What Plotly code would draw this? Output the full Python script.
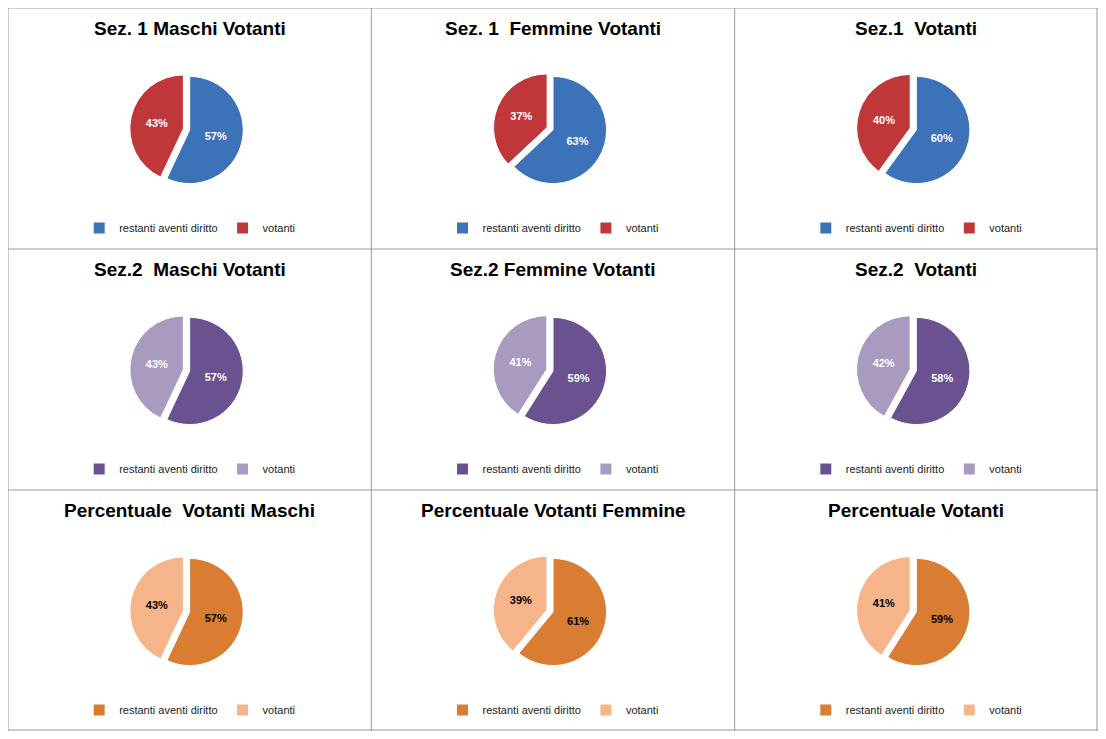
import plotly.graph_objects as go

titles = [
    "Sez. 1 Maschi Votanti", "Sez. 1  Femmine Votanti", "Sez.1  Votanti",
    "Sez.2  Maschi Votanti", "Sez.2 Femmine Votanti", "Sez.2  Votanti",
    "Percentuale  Votanti Maschi", "Percentuale Votanti Femmine", "Percentuale Votanti",
]
labels = ["restanti aventi diritto", "votanti"]
restanti = [57, 63, 60, 57, 59, 58, 57, 61, 59]
votanti = [43, 37, 40, 43, 41, 42, 43, 39, 41]
row_colors = [["#3c72b8", "#c0373a"], ["#6a5190", "#a99bbf"], ["#d97d33", "#f5b48a"]]
row_text = ["white", "white", "black"]

W, H = 1090, 723
fig = go.Figure()
cw, ch = W / 3, H / 3

for i in range(9):
    r, c = divmod(i, 3)
    x0 = c * cw
    top = r * ch
    cy = top + 122
    rad = 60
    # invisible suffix keeps each pie's labels distinct so every legend shows them
    lab = [l + "\u200b" * i for l in labels]
    lname = "legend" if i == 0 else f"legend{i + 1}"
    fig.add_trace(go.Pie(
        labels=lab, values=[restanti[i], votanti[i]],
        marker=dict(colors=row_colors[r], line=dict(color="white", width=1)),
        pull=[0, 0.12], sort=False, direction="clockwise", rotation=0,
        texttemplate="<b>%{percent:.0%}</b>", textposition="inside",
        insidetextfont=dict(color=row_text[r], size=11, family="Liberation Sans"),
        domain=dict(x=[(x0 + 20) / W, (x0 + cw - 20) / W],
                    y=[1 - (cy + rad) / H, 1 - (cy - rad) / H]),
        legend=lname, hoverinfo="label+percent",
    ))
    fig.add_annotation(text=f"<b>{titles[i]}</b>", x=(x0 + cw / 2) / W,
                       y=1 - (top + 20) / H, xref="paper", yref="paper",
                       xanchor="center", yanchor="middle",
                       showarrow=False, font=dict(size=19, color="black"))
    lg = dict(orientation="h", x=(x0 + cw / 2) / W, y=1 - (top + 220) / H,
              xanchor="center", yanchor="middle", font=dict(size=11, color="#222"),
              bgcolor="rgba(0,0,0,0)", itemwidth=30)
    fig.update_layout(**{lname: lg})

shapes = []
for k in range(4):
    xv = min(k * cw, W - 1)
    yv = min(k * ch, H - 1)
    shapes.append(dict(type="line", xref="paper", yref="paper",
                       x0=xv / W, x1=xv / W, y0=0, y1=1, line=dict(color="#999", width=1)))
    shapes.append(dict(type="line", xref="paper", yref="paper",
                       x0=0, x1=1, y0=1 - yv / H, y1=1 - yv / H, line=dict(color="#999", width=1)))

fig.update_layout(
    width=W, height=H, margin=dict(l=0, r=0, t=0, b=0),
    paper_bgcolor="white", shapes=shapes,
    font=dict(family="Liberation Sans"),
)
fig.write_html("out.html")
